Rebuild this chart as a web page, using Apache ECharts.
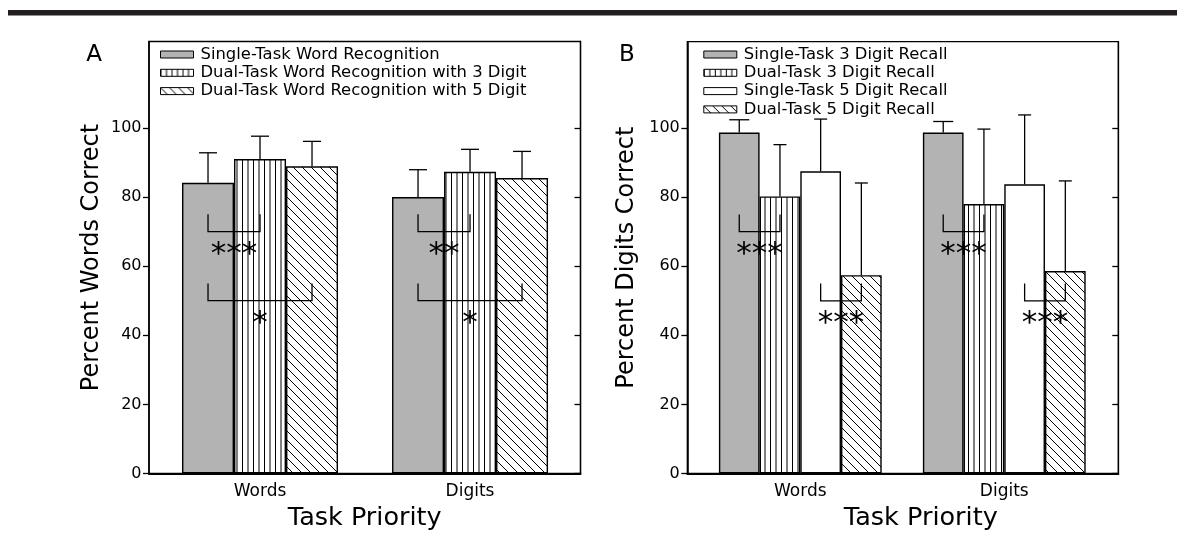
<!DOCTYPE html>
<html><head><meta charset="utf-8">
<script src="https://cdn.jsdelivr.net/npm/echarts@6/dist/echarts.min.js"></script>
<style>html,body{margin:0;padding:0;background:#fff}#c{width:1177px;height:555px}</style>
</head><body><div id="c"></div>
<script>
// ---------- data ----------
const groups = ['Words', 'Digits'];
const yTicks = [0, 20, 40, 60, 80, 100];

const namesA = ['Single-Task Word Recognition', 'Dual-Task Word Recognition with 3 Digit', 'Dual-Task Word Recognition with 5 Digit'];
const meanA_single = [84.1, 80.0];
const meanA_dual3  = [91.0, 87.3];
const meanA_dual5  = [88.9, 85.5];
const errA_single  = [92.8, 87.9];
const errA_dual3   = [97.6, 93.8];
const errA_dual5   = [96.1, 93.2];

const namesB = ['Single-Task 3 Digit Recall', 'Dual-Task 3 Digit Recall', 'Single-Task 5 Digit Recall', 'Dual-Task 5 Digit Recall'];
const meanB_single3 = [98.7, 98.7];
const meanB_dual3   = [80.2, 78.0];
const meanB_single5 = [87.5, 83.7];
const meanB_dual5   = [57.4, 58.6];
const errB_single3  = [102.4, 101.9];
const errB_dual3    = [95.2, 99.7];
const errB_single5  = [102.6, 103.8];
const errB_dual5    = [84.1, 84.7];

// significance brackets
const sigA_group = [0, 0, 1, 1];
const sigA_from  = [0, 0, 0, 0];
const sigA_to    = [1, 2, 1, 2];
const sigA_high  = [75, 55, 75, 55];
const sigA_low   = [70, 50, 70, 50];
const sigA_starY = [65, 45, 65, 45];
const sigA_stars = ['***', '*', '**', '*'];

const sigB_group = [0, 0, 1, 1];
const sigB_from  = [0, 2, 0, 2];
const sigB_to    = [1, 3, 1, 3];
const sigB_high  = [75, 55, 75, 55];
const sigB_low   = [70, 50, 70, 50];
const sigB_starY = [65, 45, 65, 45];
const sigB_stars = ['***', '***', '***', '***'];

// ---------- patterns ----------
function stripeCanvas() {
  const c = document.createElement('canvas'); c.width = 11; c.height = 4;
  const g = c.getContext('2d');
  g.fillStyle = '#fff'; g.fillRect(0, 0, 11, 4);
  g.strokeStyle = '#000'; g.lineWidth = 1;
  g.beginPath(); g.moveTo(0.5, 0); g.lineTo(0.5, 4); g.moveTo(6, 0); g.lineTo(6, 4); g.stroke();
  return c;
}
function hatchCanvas() {
  const s = 9;
  const c = document.createElement('canvas'); c.width = s; c.height = s;
  const g = c.getContext('2d');
  g.fillStyle = '#fff'; g.fillRect(0, 0, s, s);
  g.strokeStyle = '#000'; g.lineWidth = 1;
  g.beginPath();
  g.moveTo(-1, -1); g.lineTo(s + 1, s + 1);
  g.moveTo(-1, s - 1); g.lineTo(1, s + 1);
  g.moveTo(s - 1, -1); g.lineTo(s + 1, 1);
  g.stroke();
  return c;
}
const GRAY = '#b3b3b3';
const STRIPE = { image: stripeCanvas(), repeat: 'repeat' };
const HATCH = { image: hatchCanvas(), repeat: 'repeat' };

const FONT = 'DejaVu Sans';

// ---------- builders ----------
function pairs(arr) { return arr.map((v, i) => [i, v]); }

function barSeries(name, vals, fill, gi, barW) {
  return {
    type: 'bar', name, xAxisIndex: gi, yAxisIndex: gi * 2,
    data: pairs(vals), barWidth: barW, barGap: '0%',
    itemStyle: { color: fill, borderColor: '#000', borderWidth: 1.4 },
    emphasis: { disabled: true }, z: 2
  };
}

function errSeries(means, tops, idx, n, barW, capW, gi) {
  return {
    type: 'custom', xAxisIndex: gi, yAxisIndex: gi * 2, z: 5, silent: true,
    data: means.map((m, i) => [i, m, tops[i]]),
    renderItem: function (params, api) {
      const g = api.value(0);
      const b = api.coord([g, api.value(1)]);
      const t = api.coord([g, api.value(2)]);
      const cx = b[0] + (idx - (n - 1) / 2) * barW;
      const st = { stroke: '#000', lineWidth: 1.3 };
      return { type: 'group', children: [
        { type: 'line', shape: { x1: cx, y1: b[1], x2: cx, y2: t[1] }, style: st },
        { type: 'line', shape: { x1: cx - capW / 2, y1: t[1], x2: cx + capW / 2, y2: t[1] }, style: st }
      ]};
    }
  };
}

function sigSeries(grp, from, to, high, low, starY, stars, n, barW, gi) {
  return {
    type: 'custom', xAxisIndex: gi, yAxisIndex: gi * 2, z: 6, silent: true,
    data: grp.map((g, i) => [g, from[i], to[i], high[i], low[i], starY[i]]),
    renderItem: function (params, api) {
      const g = api.value(0);
      const base = api.coord([g, api.value(4)]);
      const yh = api.coord([g, api.value(3)])[1];
      const ys = api.coord([g, api.value(5)])[1];
      const x1 = base[0] + (api.value(1) - (n - 1) / 2) * barW;
      const x2 = base[0] + (api.value(2) - (n - 1) / 2) * barW;
      const fs = 31;
      return { type: 'group', children: [
        { type: 'polyline', shape: { points: [[x1, yh], [x1, base[1]], [x2, base[1]], [x2, yh]] },
          style: { stroke: '#000', lineWidth: 1.3, fill: null } },
        { type: 'text', x: (x1 + x2) / 2, y: ys + fs * 0.2,
          style: { text: stars[params.dataIndex], fill: '#000', fontSize: fs, fontFamily: FONT,
                   align: 'center', verticalAlign: 'middle', textAlign: 'center', textVerticalAlign: 'middle' } }
      ]};
    }
  };
}

function xAxisFor(gi, min, max, namePad) {
  return {
    type: 'value', gridIndex: gi, min, max, position: 'bottom',
    axisLine: { show: true, onZero: false, lineStyle: { color: '#000', width: 2 } },
    axisTick: { show: false }, splitLine: { show: false },
    axisLabel: { customValues: [0, 1], formatter: v => groups[Math.round(v)] || '',
                 color: '#000', fontSize: 17, fontFamily: FONT, margin: 10 },
    name: 'Task Priority', nameLocation: 'middle', nameGap: 32, nameMoveOverlap: false,
    nameTextStyle: { color: '#000', fontSize: 25.5, fontFamily: FONT, padding: namePad }
  };
}
function yAxesFor(gi, title, gap) {
  return [{
    type: 'value', gridIndex: gi, min: 0, max: 125, interval: 20, position: 'left',
    axisLine: { show: true, onZero: false, lineStyle: { color: '#000', width: 1.6 } },
    axisTick: { show: true, inside: false, length: 6, customValues: yTicks, lineStyle: { color: '#000', width: 1.3 } },
    axisLabel: { customValues: yTicks, color: '#000', fontSize: 16, fontFamily: FONT, margin: 7.5 },
    splitLine: { show: false },
    name: title, nameLocation: 'middle', nameGap: gap, nameMoveOverlap: false,
    nameTextStyle: { color: '#000', fontSize: 24, fontFamily: FONT }
  }, {
    type: 'value', gridIndex: gi, min: 0, max: 125, interval: 20, position: 'right',
    axisLine: { show: true, onZero: false, lineStyle: { color: '#000', width: 1.3 } },
    axisTick: { show: true, inside: true, length: 6, customValues: yTicks, lineStyle: { color: '#000', width: 1.3 } },
    axisLabel: { show: false }, splitLine: { show: false }
  }];
}

const bwA = 52, bwB = 40.7;
const fillsA = [GRAY, STRIPE, HATCH];
const meansA = [meanA_single, meanA_dual3, meanA_dual5];
const errsA = [errA_single, errA_dual3, errA_dual5];
const fillsB = [GRAY, STRIPE, '#ffffff', HATCH];
const meansB = [meanB_single3, meanB_dual3, meanB_single5, meanB_dual5];
const errsB = [errB_single3, errB_dual3, errB_single5, errB_dual5];
const capsB = [20, 13, 13, 13];

const series = [];
namesA.forEach((n, i) => series.push(barSeries(n, meansA[i], fillsA[i], 0, bwA)));
namesB.forEach((n, i) => series.push(barSeries(n, meansB[i], fillsB[i], 1, bwB)));
meansA.forEach((m, i) => series.push(errSeries(m, errsA[i], i, 3, bwA, 18, 0)));
meansB.forEach((m, i) => series.push(errSeries(m, errsB[i], i, 4, bwB, capsB[i], 1)));
series.push(sigSeries(sigA_group, sigA_from, sigA_to, sigA_high, sigA_low, sigA_starY, sigA_stars, 3, bwA, 0));
series.push(sigSeries(sigB_group, sigB_from, sigB_to, sigB_high, sigB_low, sigB_starY, sigB_stars, 4, bwB, 1));

const legendCommon = {
  orient: 'vertical', icon: 'rect', itemWidth: 33, itemHeight: 7, itemGap: 2.3, padding: 0,
  selectedMode: false, inactiveColor: '#000',
  itemStyle: { borderColor: '#000', borderWidth: 1 },
  textStyle: { color: '#000', fontSize: 16.4, fontFamily: FONT, padding: [0, 0, 0, 2] }
};

const chart = echarts.init(document.getElementById('c'), null, { renderer: 'canvas' });
chart.setOption({
  backgroundColor: '#fff',
  animation: false,
  grid: [
    { left: 149, top: 41.5, width: 431.5, height: 432, show: true, borderColor: '#000', borderWidth: 1.3, backgroundColor: 'transparent', containLabel: false, outerBoundsMode: 'none' },
    { left: 687.3, top: 41.7, width: 431, height: 431.8, show: true, borderColor: '#000', borderWidth: 1.3, backgroundColor: 'transparent', containLabel: false, outerBoundsMode: 'none' }
  ],
  xAxis: [ xAxisFor(0, -0.5286, 1.526, [0, 0, 0, 0]), xAxisFor(1, -0.554, 1.559, [0, 0, 0, 36]) ],
  yAxis: [ ...yAxesFor(0, 'Percent Words Correct', 45.5), ...yAxesFor(1, 'Percent Digits Correct', 48.5) ],
  legend: [
    Object.assign({}, legendCommon, { data: namesA, left: 160, top: 46.5 }),
    Object.assign({}, legendCommon, { data: namesB, left: 703.3, top: 46.5 })
  ],
  graphic: [
    { type: 'rect', left: 8, top: 10, shape: { width: 1169, height: 5.5 }, style: { fill: '#231f20' } },
    { type: 'text', x: 94, y: 55.5, style: { text: 'A', fill: '#000', fontSize: 23, fontFamily: FONT, align: 'center', verticalAlign: 'middle' } },
    { type: 'text', x: 627, y: 55.5, style: { text: 'B', fill: '#000', fontSize: 23, fontFamily: FONT, align: 'center', verticalAlign: 'middle' } }
  ],
  series
});
</script>
</body></html>
